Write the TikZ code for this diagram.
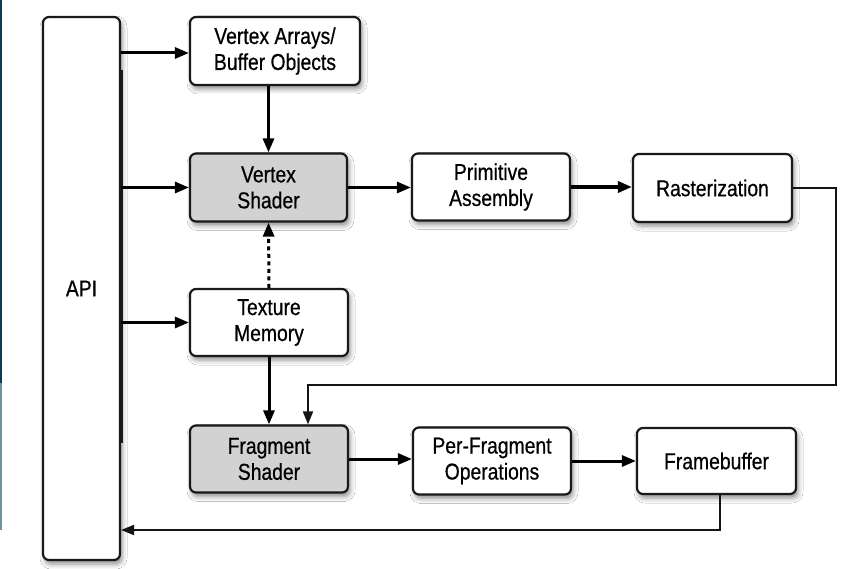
\documentclass[tikz,border=0pt]{standalone}
\usepackage{fontspec}
\setmainfont{Liberation Sans}[FakeStretch=0.84,FakeBold=0.6]
\usetikzlibrary{arrows.meta,shadows.blur}
\definecolor{edgeteal}{HTML}{0B3B52}
\definecolor{edgegray}{HTML}{7090A0}
\definecolor{boxgray}{HTML}{D2D2D2}
\tikzset{
  box/.style={draw=black!90, line width=2.2pt, rounded corners=6pt, fill=white,
    align=center, font=\fontsize{23}{26}\selectfont, inner sep=0pt,
    blur shadow={shadow xshift=2pt, shadow yshift=-4pt, shadow blur radius=5pt, shadow opacity=45}},
  graybox/.style={box, fill=boxgray},
  arr/.style={draw=black, line width=3pt, -{Triangle[length=14pt,width=11pt]}},
  looparr/.style={draw=black!92, line width=1.9pt, -{Triangle[length=13pt,width=10pt]}},
}
\begin{document}
\begin{tikzpicture}[x=1pt,y=-1pt]
\fill[white] (0,0) rectangle (868,569);
\useasboundingbox (0,0) rectangle (868,569);
\fill[edgeteal] (0,0) rectangle (2,383);
\fill[edgegray] (0,383) rectangle (2,530);

\node[box, minimum width=77pt, minimum height=543pt] (api) at (81.5,288.5) {API};
\node[box, minimum width=170pt, minimum height=68pt] (va) at (275,51) {Vertex Arrays/\\Buffer Objects};
\node[graybox, minimum width=157pt, minimum height=68pt] (vs) at (268.5,187.5) {Vertex\\Shader};
\node[box, minimum width=158pt, minimum height=67pt] (pa) at (491,187) {Primitive\\Assembly};
\node[box, minimum width=159pt, minimum height=68pt] (ras) at (712.5,188) {Rasterization};
\node[box, minimum width=158pt, minimum height=67pt] (tm) at (269,322.5) {Texture\\Memory};
\node[graybox, minimum width=158pt, minimum height=67pt] (fs) at (269,459) {Fragment\\Shader};
\node[box, minimum width=158pt, minimum height=67pt] (pfo) at (492,461) {Per-Fragment\\Operations};
\node[box, minimum width=159pt, minimum height=66pt] (fb) at (716.5,461) {Framebuffer};

% thicker part of API right border
\draw[black!90, line width=4pt] ([xshift=-0.5pt]api.east |- 0,70) -- ([xshift=-0.5pt]api.east |- 0,443);

% arrows from API
\draw[arr] (api.east |- 0,53) -- (va.west |- 0,53);
\draw[arr] (api.east |- vs.west) -- (vs.west);
\draw[arr] (api.east |- tm.west) -- (tm.west);

% vertical arrows
\draw[arr] (vs.north |- va.south) -- (vs.north);
\draw[arr, dash pattern=on 4pt off 3.5pt] (tm.north) -- (vs.south);
\draw[arr] (tm.south) -- (fs.north);

% horizontal pipeline
\draw[arr] (vs.east) -- (pa.west |- vs.east);
\draw[arr, line width=4pt] (pa.east) -- (ras.west |- pa.east);
\draw[arr] (fs.east) -- (pfo.west |- fs.east);
\draw[arr] (pfo.east) -- (fb.west |- pfo.east);

% rasterization loop
\coordinate (c1) at (836,188);
\coordinate (c2) at (836,385);
\coordinate (c3) at (308,385);
\draw[looparr] (ras.east) -- (c1) -- (c2) -- (c3) -- (fs.north -| c3);

% framebuffer return
\coordinate (r1) at (720,530);
\draw[looparr] (fb.south -| r1) -- (r1) -- (api.east |- r1);
\end{tikzpicture}
\end{document}
